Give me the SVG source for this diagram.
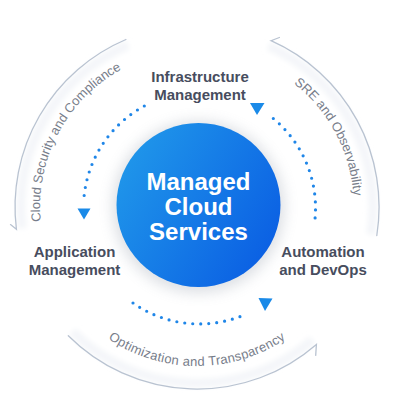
<svg xmlns="http://www.w3.org/2000/svg" width="400" height="400" viewBox="0 0 400 400">
  <defs>
    <linearGradient id="coreGrad" x1="0" y1="0.2" x2="1" y2="0.8">
      <stop offset="0" stop-color="#2098ea"/>
      <stop offset="1" stop-color="#0a5de3"/>
    </linearGradient>
    <filter id="glow" x="-30%" y="-30%" width="160%" height="160%">
      <feGaussianBlur stdDeviation="7"/>
    </filter>
    <filter id="soft" x="-10%" y="-10%" width="120%" height="120%">
      <feGaussianBlur stdDeviation="2.5"/>
    </filter>
    <path id="tpCloud" d="M63.9,290.2 A157,157 0 0 1 191.5,50.1"/>
    <path id="tpSre" d="M202.5,50.1 A157,157 0 0 1 330.1,290.2"/>
    <path id="tpOpt" d="M59.3,286.5 A159,159 0 0 0 334.7,286.5"/>
    <style>
      .ring { fill: none; stroke: #b9c3d1; stroke-width: 1.3; stroke-linecap: round; }
      .band { fill: none; stroke: #f4f6f9; stroke-width: 9; }
      .ringlabel { font-family: "Liberation Sans", Arial, sans-serif; font-size: 13px; fill: #777d8a; }
      .label { font-family: "Liberation Sans", Arial, sans-serif; font-size: 15px; font-weight: 700; fill: #474d5e; text-anchor: middle; }
      .core { font-family: "Liberation Sans", Arial, sans-serif; font-size: 24px; font-weight: 700; fill: #ffffff; text-anchor: middle; }
      .dots { fill: none; stroke: #1f86e8; stroke-width: 3.2; stroke-linecap: round; stroke-dasharray: 0 8; }
      .head { fill: #1a8ae8; }
    </style>
  </defs>

  <!-- outer ring arcs -->
  <g id="ring">
    <g filter="url(#soft)">
      <path class="band" d="M128.2,45 A176,176 0 0 0 22.3,228.4"/>
      <path class="band" d="M268.6,46.2 A176,176 0 0 1 370.8,234.5"/>
      <path class="band" d="M72.5,331.5 A176,176 0 0 0 312.5,339.8"/>
    </g>
    <path class="ring" d="M125.9,39.5 A182,182 0 0 0 16.4,229.2 L10.5,224.6"/>
    <path class="ring" d="M279.4,37.5 L271,40.7 A182,182 0 0 1 376.8,235.5"/>
    <path class="ring" d="M68.3,335.7 A182,182 0 0 0 316.4,344.4 L315.7,355.4"/>
  </g>

  <!-- ring labels -->
  <g id="ring-labels">
    <text class="ringlabel" id="lbl-security"><textPath href="#tpCloud" startOffset="50%" text-anchor="middle">Cloud Security and Compliance</textPath></text>
    <text class="ringlabel" id="lbl-sre"><textPath href="#tpSre" startOffset="50%" text-anchor="middle">SRE and Observability</textPath></text>
    <text class="ringlabel" id="lbl-opt" letter-spacing="0.3"><textPath href="#tpOpt" startOffset="50%" text-anchor="middle">Optimization and Transparency</textPath></text>
  </g>

  <!-- connectors -->
  <g id="connectors">
    <path class="dots" d="M144.3,106 A116,116 0 0 0 83.6,202.9"/>
    <polygon class="head" points="77.5,208.5 90.5,208.5 84,219.5"/>
    <path class="dots" d="M133,303 A116,116 0 0 0 247.2,313.7"/>
    <polygon class="head" points="258.5,298 272.5,298.5 265,311"/>
    <path class="dots" d="M315.1,217.9 A116,116 0 0 0 268.3,114.6"/>
    <polygon class="head" points="250,103 264.5,103 257,115"/>
  </g>

  <!-- center node -->
  <g id="node-core">
    <circle cx="198.5" cy="207" r="86" fill="#8d97a6" opacity="0.3" filter="url(#glow)"/>
    <circle cx="198.5" cy="205" r="82" fill="url(#coreGrad)"/>
    <text class="core" x="198.5" y="190">Managed</text>
    <text class="core" x="198.5" y="215">Cloud</text>
    <text class="core" x="198.5" y="240">Services</text>
  </g>

  <g id="node-infra">
    <text class="label" x="200" y="82">Infrastructure</text>
    <text class="label" x="200" y="100">Management</text>
  </g>

  <g id="node-app">
    <text class="label" x="74.5" y="257">Application</text>
    <text class="label" x="74.5" y="275">Management</text>
  </g>

  <g id="node-devops">
    <text class="label" x="323" y="257">Automation</text>
    <text class="label" x="323" y="275">and DevOps</text>
  </g>
</svg>
